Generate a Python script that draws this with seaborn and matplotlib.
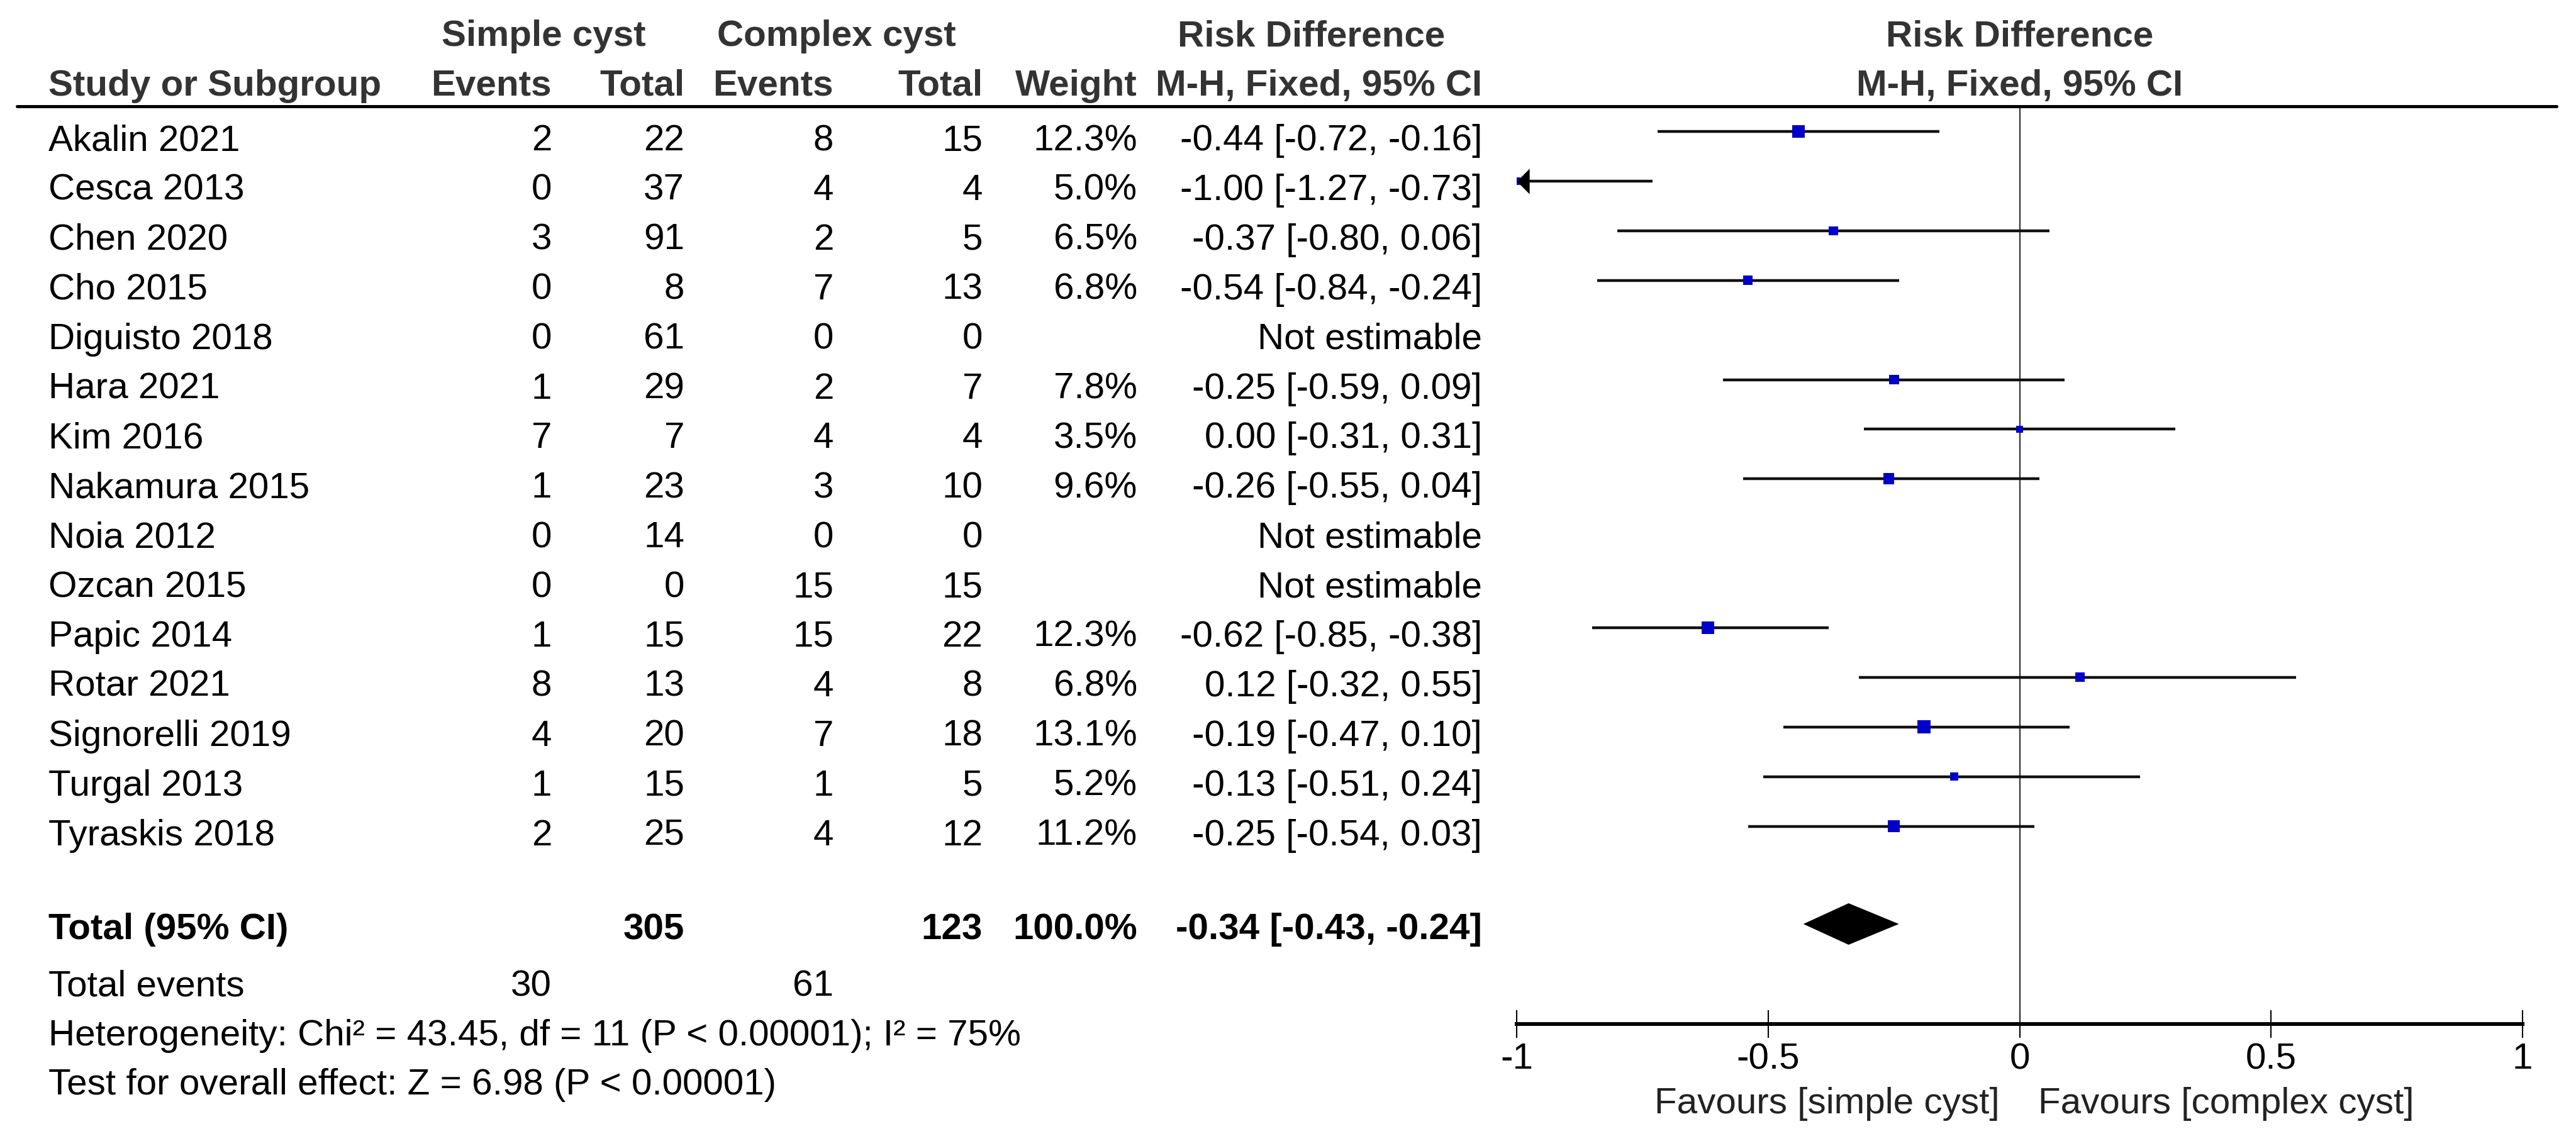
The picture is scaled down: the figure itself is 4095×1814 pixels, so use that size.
import numpy as np
import pandas as pd
import matplotlib
matplotlib.use("Agg")
import matplotlib.pyplot as plt
import matplotlib.transforms as mtransforms
from matplotlib.lines import Line2D
import seaborn as sns

# ---------------- data ----------------
studies = ["Akalin 2021", "Cesca 2013", "Chen 2020", "Cho 2015", "Diguisto 2018",
           "Hara 2021", "Kim 2016", "Nakamura 2015", "Noia 2012", "Ozcan 2015",
           "Papic 2014", "Rotar 2021", "Signorelli 2019", "Turgal 2013", "Tyraskis 2018"]
simple_events = [2, 0, 3, 0, 0, 1, 7, 1, 0, 0, 1, 8, 4, 1, 2]
simple_total = [22, 37, 91, 8, 61, 29, 7, 23, 14, 0, 15, 13, 20, 15, 25]
complex_events = [8, 4, 2, 7, 0, 2, 4, 3, 0, 15, 15, 4, 7, 1, 4]
complex_total = [15, 4, 5, 13, 0, 7, 4, 10, 0, 15, 22, 8, 18, 5, 12]
nan = np.nan
weights = [12.3, 5.0, 6.5, 6.8, nan, 7.8, 3.5, 9.6, nan, nan, 12.3, 6.8, 13.1, 5.2, 11.2]
risk_diff = [-0.44, -1.00, -0.37, -0.54, nan, -0.25, 0.00, -0.26, nan, nan, -0.62, 0.12, -0.19, -0.13, -0.25]
ci_low = [-0.72, -1.27, -0.80, -0.84, nan, -0.59, -0.31, -0.55, nan, nan, -0.85, -0.32, -0.47, -0.51, -0.54]
ci_high = [-0.16, -0.73, 0.06, -0.24, nan, 0.09, 0.31, 0.04, nan, nan, -0.38, 0.55, 0.10, 0.24, 0.03]

total_simple = 305
total_complex = 123
total_weight = 100.0
pooled_rd = -0.34
pooled_low = -0.43
pooled_high = -0.24
events_simple_sum = 30
events_complex_sum = 61
heterogeneity_text = "Heterogeneity: Chi\u00b2 = 43.45, df = 11 (P < 0.00001); I\u00b2 = 75%"
overall_text = "Test for overall effect: Z = 6.98 (P < 0.00001)"
tick_values = [-1, -0.5, 0, 0.5, 1]
tick_labels = ["-1", "-0.5", "0", "0.5", "1"]
favours_left = "Favours [simple cyst]"
favours_right = "Favours [complex cyst]"

# ---------------- style / layout ----------------
sns.set_theme(style="white")
plt.rcParams["font.family"] = ["Liberation Sans", "DejaVu Sans"]
plt.rcParams["axes.unicode_minus"] = False

W, H = 4095, 1814
DPI = 100
FS = 42
HEAD_COL = "#333333"
TXT_COL = "#000000"
BLUE = "#0000C8"

ROW0 = 209.0
ROW_STEP = 78.9
TEXT_DROP = 30
TOP_LINE_Y = 169
AXIS_Y = 1628
AX_LEFT_PX, AX_RIGHT_PX = 2411, 4010

fig = plt.figure(figsize=(W / DPI, H / DPI), dpi=DPI)
fig.patch.set_facecolor("white")

ax = fig.add_axes([AX_LEFT_PX / W, 1 - AXIS_Y / H,
                   (AX_RIGHT_PX - AX_LEFT_PX) / W, (AXIS_Y - TOP_LINE_Y) / H])
ax.set_facecolor("none")


def put(x, y, s, ha="left", bold=False, color=TXT_COL):
    fig.text(x / W, 1 - y / H, s, ha=ha, va="baseline", fontsize=FS,
             fontweight="bold" if bold else "normal", color=color)


df = pd.DataFrame({
    "study": studies, "se": simple_events, "st": simple_total,
    "ce": complex_events, "ct": complex_total, "w": weights,
    "rd": risk_diff, "lo": ci_low, "hi": ci_high,
})
df["ypos"] = ROW0 + ROW_STEP * np.arange(len(df))

# ---------------- header ----------------
put(864, 73, "Simple cyst", ha="center", bold=True, color=HEAD_COL)
put(1330, 73, "Complex cyst", ha="center", bold=True, color=HEAD_COL)
put(2085, 73, "Risk Difference", ha="center", bold=True, color=HEAD_COL)
put(77, 152, "Study or Subgroup", bold=True, color=HEAD_COL)
put(877, 152, "Events", ha="right", bold=True, color=HEAD_COL)
put(1088, 152, "Total", ha="right", bold=True, color=HEAD_COL)
put(1325, 152, "Events", ha="right", bold=True, color=HEAD_COL)
put(1562, 152, "Total", ha="right", bold=True, color=HEAD_COL)
put(1808, 152, "Weight", ha="right", bold=True, color=HEAD_COL)
put(2356, 152, "M-H, Fixed, 95% CI", ha="right", bold=True, color=HEAD_COL)

blend = mtransforms.blended_transform_factory(ax.transData, fig.transFigure)
ax.text(0, 1 - 73 / H, "Risk Difference", transform=blend, ha="center", va="baseline",
        fontsize=FS, fontweight="bold", color=HEAD_COL)
ax.text(0, 1 - 152 / H, "M-H, Fixed, 95% CI", transform=blend, ha="center", va="baseline",
        fontsize=FS, fontweight="bold", color=HEAD_COL)

fig.add_artist(Line2D([27 / W, 4064 / W], [1 - TOP_LINE_Y / H] * 2,
                      transform=fig.transFigure, color="black", lw=3.6))

# ---------------- study rows (text) ----------------
for _, r in df.iterrows():
    yb = r.ypos + TEXT_DROP
    put(77, yb, r.study)
    put(877, yb, f"{r.se:d}", ha="right")
    put(1088, yb, f"{r.st:d}", ha="right")
    put(1325, yb, f"{r.ce:d}", ha="right")
    put(1562, yb, f"{r.ct:d}", ha="right")
    if np.isnan(r.rd):
        put(2356, yb, "Not estimable", ha="right")
    else:
        put(1808, yb, f"{r.w:.1f}%", ha="right")
        put(2356, yb, f"{r.rd:.2f} [{r.lo:.2f}, {r.hi:.2f}]", ha="right")

# ---------------- forest marks ----------------
XMIN, XMAX = -1.0, 1.0
est = df.dropna(subset=["rd"]).copy()
ax.hlines(est["ypos"], est["lo"], est["hi"], color="#111111", lw=3.2, zorder=2)

SQ_AREA_PER_PCT = 16.9
wmax = est["w"].max()
sns.scatterplot(data=est, x="rd", y="ypos", size="w", sizes=(0, SQ_AREA_PER_PCT * wmax),
                size_norm=(0, wmax), marker="s", color=BLUE, linewidth=0,
                legend=False, ax=ax, zorder=3)

# arrows for CIs beyond the axis range
arrow_marker = [(0, 0), (1, 1), (1, -1), (0, 0)]
clipped = est[est["lo"] < XMIN]
for _, r in clipped.iterrows():
    ax.plot([XMIN], [r.ypos], marker=arrow_marker, markersize=29, color="black",
            markeredgewidth=0, clip_on=False, zorder=4)

# pooled diamond
TOTAL_Y = 1469
DIAM_H = 33
ax.fill([pooled_low, pooled_rd, pooled_high, pooled_rd],
        [TOTAL_Y, TOTAL_Y - DIAM_H, TOTAL_Y, TOTAL_Y + DIAM_H],
        color="black", lw=0, zorder=3)

ax.axvline(0, color="#3a3a3a", lw=1.7, zorder=1)

ax.set_xlim(XMIN, XMAX)
ax.set_ylim(AXIS_Y, TOP_LINE_Y)
ax.set_xlabel("")
ax.set_ylabel("")
ax.set_yticks([])
ax.set_xticks(tick_values)
ax.set_xticklabels(tick_labels)
for sp in ["top", "left", "right"]:
    ax.spines[sp].set_visible(False)
ax.spines["bottom"].set_linewidth(4.3)
ax.spines["bottom"].set_color("black")
ax.tick_params(axis="x", direction="inout", length=32, width=1.5, color="black",
               pad=5, labelsize=FS, labelcolor=TXT_COL, bottom=True)

# ---------------- totals ----------------
TB = 1493
put(77, TB, "Total (95% CI)", bold=True)
put(1088, TB, f"{total_simple}", ha="right", bold=True)
put(1562, TB, f"{total_complex}", ha="right", bold=True)
put(1808, TB, f"{total_weight:.1f}%", ha="right", bold=True)
put(2356, TB, f"{pooled_rd:.2f} [{pooled_low:.2f}, {pooled_high:.2f}]", ha="right", bold=True)

put(77, 1583, "Total events")
put(877, 1583, f"{events_simple_sum}", ha="right")
put(1325, 1583, f"{events_complex_sum}", ha="right")
put(77, 1662, heterogeneity_text)
put(77, 1740, overall_text)

put(3179, 1770, favours_left, ha="right", color="#222222")
put(3240, 1770, favours_right, ha="left", color="#222222")

fig.savefig("out.png", dpi=DPI, facecolor="white")
